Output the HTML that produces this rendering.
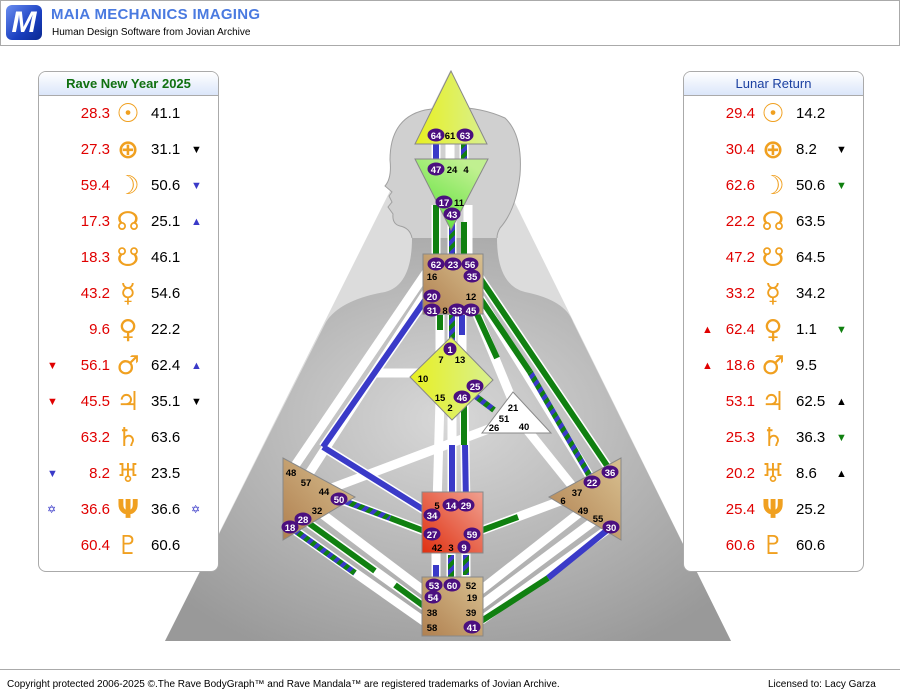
<!DOCTYPE html>
<html><head><meta charset="utf-8"><style>
body{margin:0;width:900px;height:699px;background:#fff;font-family:"Liberation Sans",Tahoma,sans-serif;position:relative;overflow:hidden}
.hdr{position:absolute;left:0;top:0;width:898px;height:44px;border:1px solid #aaa;background:#fff}
.logo{position:absolute;left:5px;top:4px;width:36px;height:35px;border-radius:6px;background:linear-gradient(135deg,#6a8ef0,#1a3fc0 60%,#0a2890);color:#fff;font:bold 30px "Liberation Sans",sans-serif;text-align:center;line-height:36px;font-style:italic}
.t1{position:absolute;left:50px;top:5px;font:bold 15px "Liberation Sans",sans-serif;color:#4a7ae0;letter-spacing:0.3px}
.t2{position:absolute;left:51px;top:26px;font-size:10px;color:#000}
.panel{position:absolute;top:71px;width:179px;height:499px;border:1px solid #aaa;border-radius:8px;background:#fff;overflow:hidden}
.ph{height:23px;border-bottom:1px solid #aaa;background:linear-gradient(#fff,#dbe6fa);text-align:center;font:bold 13px "Liberation Sans",sans-serif;line-height:23px}
.row{position:absolute;height:36px;width:179px;font-size:15px;line-height:36px}
.a{position:absolute;right:108px;color:#e00000;text-align:right}
.s{position:absolute;left:74px;width:30px;text-align:center;color:#f0a020;font:bold 26px "DejaVu Sans",sans-serif;line-height:36px}
.b{position:absolute;left:112px;color:#000}
.ml{position:absolute;left:8px;font-size:11px}
.mr{position:absolute;left:152px;font-size:11px}
.foot{position:absolute;left:0;top:669px;width:900px;height:30px;border-top:1px solid #aaa;font-size:10px;line-height:30px}
</style></head><body>
<div class="hdr"><div class="logo">M</div><div class="t1">MAIA MECHANICS IMAGING</div><div class="t2">Human Design Software from Jovian Archive</div></div>

<svg style="position:absolute;left:0;top:0" width="900" height="699">
<defs>
<radialGradient id="bg" cx="0.5" cy="0.45" r="0.65"><stop offset="0" stop-color="#d8d8d8"/><stop offset="1" stop-color="#999"/></radialGradient>
<linearGradient id="br" x1="0" y1="1" x2="1" y2="0"><stop offset="0" stop-color="#b08050"/><stop offset="1" stop-color="#d8c090"/></linearGradient>
<linearGradient id="rd" x1="0" y1="1" x2="1" y2="0"><stop offset="0" stop-color="#e03010"/><stop offset="1" stop-color="#f0a090"/></linearGradient>
<linearGradient id="yl" x1="0" y1="0" x2="1" y2="0"><stop offset="0" stop-color="#e8f020"/><stop offset="1" stop-color="#d8f090"/></linearGradient>
<linearGradient id="gr" x1="0" y1="1" x2="0.6" y2="0"><stop offset="0" stop-color="#50e030"/><stop offset="1" stop-color="#c0f090"/></linearGradient>
<pattern id="st" width="8" height="8" patternUnits="userSpaceOnUse" patternTransform="rotate(45)"><rect width="8" height="8" fill="#108010"/><rect width="4" height="8" fill="#3a3ac8"/></pattern>
</defs>
<polygon points="165,641 731,641 450,71" fill="#dcdcdc"/>
<path d="M326,322 Q340,300 385,292 Q412,285 412,238 L497,238 Q497,285 525,292 Q565,300 573,322 L731,641 L165,641 Z" fill="url(#bg)"/>
<path d="M412,238 Q410,228 400,226 Q392,224 393,214 L388,207 L392,202 L389,196 L392,192 L385,186 Q392,178 390,160 Q390,118 425,110 Q470,102 505,118 Q523,135 520,175 Q516,210 500,228 Q497,233 497,238" fill="#d0d0d0" stroke="#a0a0a0" stroke-width="1"/>
<g stroke-linecap="butt" fill="none">
<g stroke="#fff" stroke-width="9">
<line x1="436" y1="140" x2="436" y2="165"/><line x1="450" y1="140" x2="450" y2="165"/><line x1="464" y1="140" x2="464" y2="165"/>
<line x1="436" y1="205" x2="436" y2="262"/><line x1="452" y1="215" x2="452" y2="262"/><line x1="468" y1="205" x2="468" y2="262"/>
<line x1="440" y1="315" x2="440" y2="355"/><line x1="452" y1="315" x2="452" y2="350"/><line x1="462" y1="315" x2="462" y2="355"/>
<line x1="428" y1="270" x2="292" y2="470"/><line x1="428" y1="290" x2="305" y2="480"/>
<line x1="478" y1="275" x2="610" y2="470"/><line x1="480" y1="298" x2="592" y2="480"/><line x1="476" y1="312" x2="513" y2="402"/>
<line x1="418" y1="373" x2="375" y2="373"/>
<line x1="440" y1="400" x2="437" y2="505"/><line x1="452" y1="405" x2="452" y2="505"/><line x1="464" y1="400" x2="466" y2="505"/>
<line x1="324" y1="491" x2="494" y2="427"/><line x1="577" y1="492" x2="524" y2="426"/>
<line x1="436" y1="550" x2="436" y2="585"/><line x1="451" y1="550" x2="451" y2="585"/><line x1="466" y1="550" x2="466" y2="585"/>
<line x1="317" y1="510" x2="432" y2="597"/><line x1="303" y1="519" x2="432" y2="612"/><line x1="290" y1="527" x2="432" y2="627"/>
<line x1="583" y1="510" x2="472" y2="597"/><line x1="598" y1="518" x2="472" y2="612"/><line x1="611" y1="527" x2="472" y2="627"/>
<line x1="339" y1="499" x2="432" y2="534"/><line x1="472" y1="534" x2="563" y2="500"/>
<line x1="428" y1="296" x2="323" y2="447"/><line x1="323" y1="447" x2="432" y2="515"/>
</g>
<line x1="436" y1="140" x2="436" y2="165" stroke="#3a3ac8" stroke-width="6"/>
<line x1="464" y1="140" x2="464" y2="165" stroke="url(#st)" stroke-width="6"/>
<line x1="436" y1="205" x2="436" y2="262" stroke="#108010" stroke-width="6"/>
<line x1="452" y1="215" x2="452" y2="262" stroke="url(#st)" stroke-width="6"/>
<line x1="464" y1="222" x2="464" y2="262" stroke="#108010" stroke-width="6"/>
<line x1="440" y1="315" x2="440" y2="330" stroke="#108010" stroke-width="6"/>
<line x1="452" y1="315" x2="452" y2="340" stroke="url(#st)" stroke-width="6"/>
<line x1="462" y1="315" x2="462" y2="335" stroke="#3a3ac8" stroke-width="6"/>
<line x1="428" y1="296" x2="323" y2="447" stroke="#3a3ac8" stroke-width="6"/>
<line x1="323" y1="447" x2="432" y2="515" stroke="#3a3ac8" stroke-width="6"/>
<line x1="478" y1="275" x2="610" y2="470" stroke="#108010" stroke-width="6"/>
<line x1="480" y1="298" x2="530" y2="372" stroke="#108010" stroke-width="6"/>
<line x1="530" y1="372" x2="592" y2="480" stroke="url(#st)" stroke-width="6"/>
<line x1="476" y1="312" x2="497" y2="358" stroke="#108010" stroke-width="6"/>
<line x1="470" y1="392" x2="494" y2="410" stroke="url(#st)" stroke-width="6"/>
<line x1="452" y1="445" x2="452" y2="505" stroke="#3a3ac8" stroke-width="6"/>
<line x1="464" y1="400" x2="464" y2="445" stroke="#108010" stroke-width="6"/>
<line x1="465" y1="445" x2="466" y2="505" stroke="#3a3ac8" stroke-width="6"/>
<line x1="436" y1="565" x2="436" y2="585" stroke="#3a3ac8" stroke-width="6"/>
<line x1="451" y1="555" x2="451" y2="585" stroke="url(#st)" stroke-width="6"/>
<line x1="466" y1="555" x2="466" y2="575" stroke="url(#st)" stroke-width="6"/>
<line x1="339" y1="499" x2="390" y2="518" stroke="url(#st)" stroke-width="6"/>
<line x1="390" y1="518" x2="432" y2="534" stroke="#108010" stroke-width="6"/>
<line x1="472" y1="534" x2="518" y2="517" stroke="#108010" stroke-width="6"/>
<line x1="303" y1="519" x2="375" y2="571" stroke="#108010" stroke-width="6"/>
<line x1="375" y1="571" x2="395" y2="585" stroke="#fff" stroke-width="6"/>
<line x1="395" y1="585" x2="432" y2="612" stroke="#108010" stroke-width="6"/>
<line x1="290" y1="527" x2="355" y2="573" stroke="url(#st)" stroke-width="6"/>
<line x1="611" y1="527" x2="548" y2="578" stroke="#3a3ac8" stroke-width="6"/>
<line x1="548" y1="578" x2="472" y2="627" stroke="#108010" stroke-width="6"/>
</g>
<g stroke="#888" stroke-width="1">
<polygon points="451,71 415,144 487,144" fill="url(#yl)"/>
<polygon points="415,159 488,159 451,230" fill="url(#gr)"/>
<rect x="423" y="254" width="60" height="60" fill="url(#br)"/>
<polygon points="451,337 493,380 452,420 410,377" fill="url(#yl)"/>
<polygon points="513,392 482,433 551,433" fill="#fff"/>
<rect x="422" y="492" width="61" height="61" fill="url(#rd)"/>
<rect x="422" y="577" width="61" height="59" fill="url(#br)"/>
<polygon points="283,458 283,540 355,497" fill="url(#br)"/>
<polygon points="621,458 621,540 549,497" fill="url(#br)"/>
</g>
<g font-family="Liberation Sans,sans-serif" font-size="9.5" font-weight="bold" text-anchor="middle">
<g fill="#4b0f7f">
<ellipse cx="436" cy="135" rx="8.5" ry="6.5"/><ellipse cx="465" cy="135" rx="8.5" ry="6.5"/>
<ellipse cx="436" cy="169" rx="8.5" ry="6.5"/><ellipse cx="444" cy="202" rx="8.5" ry="6.5"/><ellipse cx="452" cy="214" rx="8.5" ry="6.5"/>
<ellipse cx="436" cy="264" rx="8.5" ry="6.5"/><ellipse cx="453" cy="264" rx="8.5" ry="6.5"/><ellipse cx="470" cy="264" rx="8.5" ry="6.5"/><ellipse cx="472" cy="276" rx="8.5" ry="6.5"/>
<ellipse cx="432" cy="296" rx="8.5" ry="6.5"/><ellipse cx="432" cy="310" rx="8.5" ry="6.5"/><ellipse cx="457" cy="310" rx="8.5" ry="6.5"/><ellipse cx="471" cy="310" rx="8.5" ry="6.5"/>
<ellipse cx="450" cy="349" rx="6.5" ry="6.5"/><ellipse cx="475" cy="386" rx="8.5" ry="6.5"/><ellipse cx="462" cy="397" rx="8.5" ry="6.5"/>
<ellipse cx="339" cy="499" rx="8.5" ry="6.5"/><ellipse cx="303" cy="519" rx="8.5" ry="6.5"/><ellipse cx="290" cy="527" rx="8.5" ry="6.5"/>
<ellipse cx="610" cy="472" rx="8.5" ry="6.5"/><ellipse cx="592" cy="482" rx="8.5" ry="6.5"/><ellipse cx="611" cy="527" rx="8.5" ry="6.5"/>
<ellipse cx="451" cy="505" rx="8.5" ry="6.5"/><ellipse cx="466" cy="505" rx="8.5" ry="6.5"/><ellipse cx="432" cy="515" rx="8.5" ry="6.5"/>
<ellipse cx="432" cy="534" rx="8.5" ry="6.5"/><ellipse cx="472" cy="534" rx="8.5" ry="6.5"/><ellipse cx="464" cy="547" rx="6.5" ry="6.5"/>
<ellipse cx="434" cy="585" rx="8.5" ry="6.5"/><ellipse cx="452" cy="585" rx="8.5" ry="6.5"/><ellipse cx="433" cy="597" rx="8.5" ry="6.5"/><ellipse cx="472" cy="627" rx="8.5" ry="6.5"/>
</g>
<g fill="#fff">
<text x="436" y="139">64</text><text x="465" y="139">63</text><text x="436" y="173">47</text><text x="444" y="206">17</text><text x="452" y="218">43</text>
<text x="436" y="268">62</text><text x="453" y="268">23</text><text x="470" y="268">56</text><text x="472" y="280">35</text>
<text x="432" y="300">20</text><text x="432" y="314">31</text><text x="457" y="314">33</text><text x="471" y="314">45</text>
<text x="450" y="353">1</text><text x="475" y="390">25</text><text x="462" y="401">46</text>
<text x="339" y="503">50</text><text x="303" y="523">28</text><text x="290" y="531">18</text>
<text x="610" y="476">36</text><text x="592" y="486">22</text><text x="611" y="531">30</text>
<text x="451" y="509">14</text><text x="466" y="509">29</text><text x="432" y="519">34</text><text x="432" y="538">27</text><text x="472" y="538">59</text><text x="464" y="551">9</text>
<text x="434" y="589">53</text><text x="452" y="589">60</text><text x="433" y="601">54</text><text x="472" y="631">41</text>
</g>
<g fill="#000">
<text x="450" y="139">61</text><text x="452" y="173">24</text><text x="466" y="173">4</text><text x="459" y="206">11</text>
<text x="432" y="280">16</text><text x="471" y="300">12</text><text x="445" y="314">8</text>
<text x="441" y="363">7</text><text x="460" y="363">13</text><text x="423" y="382">10</text><text x="440" y="401">15</text><text x="450" y="411">2</text>
<text x="513" y="411">21</text><text x="504" y="422">51</text><text x="494" y="431">26</text><text x="524" y="430">40</text>
<text x="291" y="476">48</text><text x="306" y="486">57</text><text x="324" y="495">44</text><text x="317" y="514">32</text>
<text x="577" y="496">37</text><text x="563" y="504">6</text><text x="583" y="514">49</text><text x="598" y="522">55</text>
<text x="437" y="509">5</text><text x="437" y="551">42</text><text x="451" y="551">3</text>
<text x="471" y="589">52</text><text x="472" y="601">19</text><text x="432" y="616">38</text><text x="471" y="616">39</text><text x="432" y="631">58</text>
</g></g>
</svg>

<div class="panel" style="left:38px"><div class="ph" style="color:#107010">Rave New Year 2025</div>
<div class="row" style="top:24px"><span class="a">28.3</span><span class="s">☉</span><span class="b">41.1</span></div>
<div class="row" style="top:60px"><span class="a">27.3</span><span class="s">⊕</span><span class="b">31.1</span><span class="mr">▼</span></div>
<div class="row" style="top:96px"><span class="a">59.4</span><span class="s">☽</span><span class="b">50.6</span><span class="mr" style="color:#3a3ac8">▼</span></div>
<div class="row" style="top:132px"><span class="a">17.3</span><span class="s">☊</span><span class="b">25.1</span><span class="mr" style="color:#3a3ac8">▲</span></div>
<div class="row" style="top:168px"><span class="a">18.3</span><span class="s">☋</span><span class="b">46.1</span></div>
<div class="row" style="top:204px"><span class="a">43.2</span><span class="s">☿</span><span class="b">54.6</span></div>
<div class="row" style="top:240px"><span class="a">9.6</span><span class="s">♀</span><span class="b">22.2</span></div>
<div class="row" style="top:276px"><span class="ml" style="color:#e00000">▼</span><span class="a">56.1</span><span class="s">♂</span><span class="b">62.4</span><span class="mr" style="color:#3a3ac8">▲</span></div>
<div class="row" style="top:312px"><span class="ml" style="color:#e00000">▼</span><span class="a">45.5</span><span class="s">♃</span><span class="b">35.1</span><span class="mr">▼</span></div>
<div class="row" style="top:348px"><span class="a">63.2</span><span class="s">♄</span><span class="b">63.6</span></div>
<div class="row" style="top:384px"><span class="ml" style="color:#3a3ac8">▼</span><span class="a">8.2</span><span class="s">♅</span><span class="b">23.5</span></div>
<div class="row" style="top:420px"><span class="ml" style="color:#3a3ac8">✡</span><span class="a">36.6</span><span class="s">Ψ</span><span class="b">36.6</span><span class="mr" style="color:#3a3ac8">✡</span></div>
<div class="row" style="top:456px"><span class="a">60.4</span><span class="s">♇</span><span class="b">60.6</span></div>
</div>

<div class="panel" style="left:683px"><div class="ph" style="color:#1a3fa0;font-weight:normal">Lunar Return</div>
<div class="row" style="top:24px"><span class="a">29.4</span><span class="s">☉</span><span class="b">14.2</span></div>
<div class="row" style="top:60px"><span class="a">30.4</span><span class="s">⊕</span><span class="b">8.2</span><span class="mr">▼</span></div>
<div class="row" style="top:96px"><span class="a">62.6</span><span class="s">☽</span><span class="b">50.6</span><span class="mr" style="color:#108010">▼</span></div>
<div class="row" style="top:132px"><span class="a">22.2</span><span class="s">☊</span><span class="b">63.5</span></div>
<div class="row" style="top:168px"><span class="a">47.2</span><span class="s">☋</span><span class="b">64.5</span></div>
<div class="row" style="top:204px"><span class="a">33.2</span><span class="s">☿</span><span class="b">34.2</span></div>
<div class="row" style="top:240px"><span class="ml" style="color:#e00000;left:18px">▲</span><span class="a">62.4</span><span class="s">♀</span><span class="b">1.1</span><span class="mr" style="color:#108010">▼</span></div>
<div class="row" style="top:276px"><span class="ml" style="color:#e00000;left:18px">▲</span><span class="a">18.6</span><span class="s">♂</span><span class="b">9.5</span></div>
<div class="row" style="top:312px"><span class="a">53.1</span><span class="s">♃</span><span class="b">62.5</span><span class="mr">▲</span></div>
<div class="row" style="top:348px"><span class="a">25.3</span><span class="s">♄</span><span class="b">36.3</span><span class="mr" style="color:#108010">▼</span></div>
<div class="row" style="top:384px"><span class="a">20.2</span><span class="s">♅</span><span class="b">8.6</span><span class="mr">▲</span></div>
<div class="row" style="top:420px"><span class="a">25.4</span><span class="s">Ψ</span><span class="b">25.2</span></div>
<div class="row" style="top:456px"><span class="a">60.6</span><span class="s">♇</span><span class="b">60.6</span></div>
</div>

<div class="foot"><span style="position:absolute;left:7px">Copyright protected 2006-2025 ©.The Rave BodyGraph™ and Rave Mandala™ are registered trademarks of Jovian Archive.</span><span style="position:absolute;left:768px">Licensed to: Lacy Garza</span></div>
</body></html>
